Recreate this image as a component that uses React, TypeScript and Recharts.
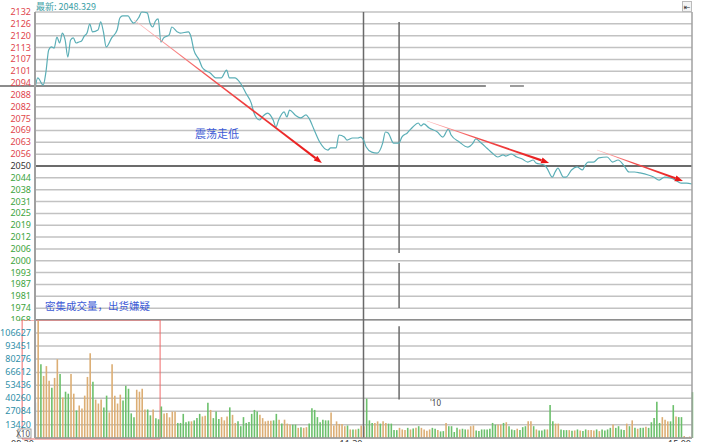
import React from "react";
import {
  ComposedChart,
  Line,
  Bar,
  Cell,
  XAxis,
  YAxis,
  CartesianGrid,
  ReferenceLine,
  ReferenceArea,
} from "recharts";

// [minute index, price]
const pricePoints: [number, number][] = [
  [0, 2091.0], [1, 2096.9], [3, 2093.1], [4, 2100.1], [5, 2111.8], [6, 2113.4], [7, 2112.8], [8, 2118.7],
  [9, 2115.5], [10, 2120.8], [11, 2117.1], [12, 2108.0], [13, 2117.1], [14, 2118.2], [15, 2115.5], [16, 2116.0],
  [17, 2116.6], [18, 2119.2], [19, 2120.8], [20, 2125.6], [21, 2121.4], [23, 2122.4], [24, 2126.7], [25, 2121.4],
  [26, 2113.4], [28, 2118.2], [30, 2122.4], [31, 2128.8], [32, 2129.9], [34, 2129.9], [35, 2127.7], [36, 2126.1],
  [38, 2129.3], [39, 2132.0], [41, 2131.5], [42, 2126.1], [43, 2124.0], [44, 2127.2], [45, 2128.3], [46, 2116.0],
  [47, 2118.2], [49, 2119.8], [50, 2124.0], [52, 2121.4], [53, 2120.8], [56, 2121.4], [57, 2118.7], [58, 2111.8],
  [60, 2106.4], [61, 2102.7], [62, 2101.1], [64, 2099.5], [66, 2096.9], [68, 2096.9], [70, 2101.1], [71, 2096.9],
  [73, 2096.9], [75, 2094.2], [77, 2088.9], [79, 2083.5], [80, 2078.2], [82, 2074.5], [83, 2076.1], [85, 2078.2],
  [87, 2074.5], [88, 2070.8], [89, 2074.5], [91, 2078.8], [92, 2076.1], [93, 2079.8], [95, 2077.2], [97, 2075.6],
  [99, 2077.2], [100, 2075.6], [102, 2069.2], [104, 2062.8], [107, 2058.5], [108, 2059.6], [110, 2059.6], [111, 2066.5],
  [113, 2065.4], [114, 2063.8], [116, 2064.9], [118, 2064.9], [119, 2065.4], [120, 2063.8], [121, 2060.1], [123, 2057.4],
  [125, 2056.9], [127, 2062.2], [128, 2068.1], [129, 2067.6], [131, 2062.2], [133, 2062.2], [134, 2065.4], [136, 2067.6],
  [138, 2070.8], [140, 2072.9], [141, 2071.3], [142, 2072.4], [144, 2070.2], [147, 2068.1], [149, 2065.4], [151, 2069.7],
  [152, 2066.5], [155, 2062.8], [158, 2060.1], [160, 2062.2], [161, 2064.4], [163, 2062.2], [165, 2059.6], [167, 2056.9],
  [169, 2054.8], [171, 2055.9], [172, 2055.3], [174, 2056.4], [176, 2054.8], [178, 2053.7], [180, 2052.1], [182, 2053.2],
  [183, 2051.6], [186, 2050.5], [187, 2048.9], [189, 2044.1], [190, 2046.8], [191, 2048.9], [193, 2044.1], [194, 2044.1],
  [196, 2047.9], [198, 2049.5], [200, 2047.9], [201, 2050.5], [202, 2052.1], [204, 2052.1], [206, 2054.3], [209, 2054.8],
  [211, 2052.1], [213, 2053.2], [215, 2050.5], [217, 2046.8], [219, 2046.8], [221, 2046.3], [224, 2045.2], [226, 2044.1],
  [228, 2042.5], [230, 2044.1], [232, 2043.6], [234, 2042.5], [236, 2040.9], [238, 2040.9], [240, 2040.4],
];

const priceTicks = [
  "2132", "2126", "2120", "2113", "2107", "2101", "2094", "2088", "2082", "2075", "2069", "2063", "2056",
  "2050", "2044", "2038", "2031", "2025", "2019", "2012", "2006", "2000", "1993", "1987", "1981", "1974", "1968",
];
const pctTicks = [
  "4.00%", "3.71%", "3.40%", "3.09%", "2.78%", "2.48%", "2.16%", "1.86%", "1.56%", "1.24%", "0.94%", "0.62%", "0.32%",
  "0.00%", "0.30%", "0.60%", "0.91%", "1.22%", "1.53%", "1.83%", "2.14%", "2.45%", "2.75%", "3.07%", "3.37%", "3.69%", "4.00%",
];
const priceTop = 2132;
const priceBottom = 1968;
const prevClose = 2050;

// volume per minute, in thousands; side: B = open, T = up (tan), G = down (green)
const volK = [
  36, 119, 75, 63, 73, 58, 51, 61, 80, 65,
  41, 47, 45, 65, 45, 28, 33, 30, 43, 62,
  86, 57, 39, 35, 39, 31, 43, 26, 75, 43,
  35, 44, 38, 53, 50, 25, 21, 49, 47, 50,
  29, 29, 23, 29, 20, 19, 32, 25, 25.5, 21,
  26.8, 26.8, 15.3, 15.3, 24.5, 16, 16.9, 16.9, 17.9, 20.2,
  24.5, 21.9, 22.6, 35.8, 28.5, 20.2, 26.8, 19.3, 21.2, 17.9,
  21.9, 31.1, 23.5, 15.3, 16.9, 12, 21.2, 15.3, 16.3, 24.5,
  28.5, 26.8, 23.5, 20.2, 16.9, 17.6, 17.6, 17.9, 24.5, 18.6,
  14.6, 18.6, 14.6, 13.6, 13.6, 13.6, 10.3, 11, 10.3, 11,
  14.6, 30.1, 28.5, 21.2, 16, 18.6, 17.9, 17.9, 25.9, 12.7,
  16.9, 14.3, 14.3, 12, 12.7, 8.7, 8.7, 8.7, 9.4, 12.7,
  12, 40, 17.9, 15.3, 15.3, 16.9, 14.6, 16.9, 15.3, 14.6,
  14.6, 8, 8, 10.3, 8.7, 8, 10.3, 8.7, 9.7, 10.3,
  12, 10.3, 8.7, 7.4, 8.7, 10.3, 9.4, 8, 6.7, 7,
  15.3, 12, 12, 6.1, 10.3, 8.7, 9.4, 8.7, 8.7, 12,
  12.7, 7.7, 7, 8.7, 8.7, 8.7, 9.4, 15.3, 13.6, 13.6,
  13.6, 15.3, 16, 12, 8.7, 8, 9.4, 8, 11, 12,
  16.9, 16.9, 12, 8.7, 7.7, 7.7, 8.7, 8.7, 33.4, 16.9,
  14.6, 14.6, 8.7, 8, 8, 8, 7.4, 7.7, 8.7, 7.7,
  7, 8.7, 8, 8, 7.7, 8.7, 7, 8.7, 7.7, 8.7,
  10.3, 13.6, 10.3, 12, 8.7, 8, 14.6, 12, 17.9, 10.3,
  9.4, 10.3, 10.3, 11.3, 10.3, 16, 20.2, 36.7, 15.3, 21.2,
  18.6, 16.9, 16.9, 33.4, 21.9, 21.2, 21.2, 2, 1, 1.5,
  46.6,
];
const volSide =
  "BTGTTTGTTG" + "TGGTTGTTTT" + "TGTTTGGTTT" + "TTGGGGGTTT" + "TGGTGGGTTT" +
  "TTGGGGGTGG" + "GTTGTGGGTT" + "TGTTGGGGGG" + "GGTTTTTGGT" + "GTTTGGTGTT" +
  "GGGGGGGGTT" + "TTTTGTGTGT" + "TGGGTTGTTG" + "GGGTTTGTGT" + "GTTTTGGTGG" +
  "TGGGGTGGTT" + "TGGGGGGGGT" + "TGTGGGTGGG" + "TTGTGGGTGG" + "TTGGGTGTGT" +
  "GGTTTGTGGG" + "GTGGGGTGTG" + "TGGTGGGGGT" + "TTGGTGGTTT" + "G";

const volTicks = [0, 13420, 27084, 40260, 53436, 66612, 80276, 93451, 106627, 119803];
const volTickLabels = ["X10", "13420", "27084", "40260", "53436", "66612", "80276", "93451", "106627", ""];
const timeTicks = [0, 120, 240];
const timeLabels = ["09:30", "11:30", "15:00"];

const FONT = '"Noto Sans", "DejaVu Sans", sans-serif';
const CJK = '"Noto Sans CJK SC", "Noto Sans", sans-serif';
const RED = "#e0464c";
const GREEN = "#3ca43c";
const DARK = "#333";
const LINE = "#5aaeb6";
const TAN = "#dcae74";
const VGREEN = "#6cc06c";

const step = (priceTop - priceBottom) / (priceTicks.length - 1);
const priceTickVals = priceTicks.map((_, k) => priceTop - k * step);
const midIdx = priceTicks.indexOf("2050");

const priceData = pricePoints.map(([t, p]) => ({ t, price: p }));
const volData = volK.map((v, i) => ({ t: i, vol: v * 1000, side: volSide[i] }));

const sideColor = (s: string) => (s === "T" ? TAN : s === "G" ? VGREEN : "#a8d2e8");
const tickColor = (k: number) => (k < midIdx ? RED : k === midIdx ? DARK : GREEN);

function LeftTick(props: any) {
  const { x, y, index } = props;
  return (
    <text x={x} y={y} dy={3} textAnchor="end" fontSize={9} fontFamily={FONT} fill={tickColor(index)}>
      {priceTicks[index]}
    </text>
  );
}

function RightTick(props: any) {
  const { x, y, index } = props;
  return (
    <text x={x} y={y} dy={3} textAnchor="start" fontSize={9} fontFamily={FONT} fill={tickColor(index)}>
      {pctTicks[index]}
    </text>
  );
}

function VolTick(props: any) {
  const { x, y, index } = props;
  if (index === 0) {
    return (
      <g>
        <rect x={x - 13} y={y - 9} width={13} height={9} fill="#fff" stroke="#888" strokeWidth={0.8} />
        <text x={x - 1} y={y - 1.5} textAnchor="end" fontSize={8} fontFamily={FONT} fill="#555">
          {volTickLabels[0]}
        </text>
      </g>
    );
  }
  return (
    <text x={x} y={y} dy={3} textAnchor="end" fontSize={9} fontFamily={FONT} fill="#2f8fa8">
      {volTickLabels[index]}
    </text>
  );
}

function TimeTick(props: any) {
  const { x, y, index } = props;
  return (
    <text x={x - 1} y={y + 7} textAnchor="end" fontSize={9} fontFamily={FONT} fill={DARK}>
      {timeLabels[index]}
    </text>
  );
}

function Arrow(props: any) {
  const { x1, y1, x2, y2, gid } = props;
  const dx = x2 - x1;
  const dy = y2 - y1;
  const len = Math.hypot(dx, dy) || 1;
  const ux = dx / len, uy = dy / len;
  const nx = -uy, ny = ux;
  const head = 8, hw = 3;
  const bx = x2 - ux * head, by = y2 - uy * head;
  const w0 = 0.3, w1 = 1.1;
  const body = [
    [x1 + nx * w0, y1 + ny * w0],
    [bx + nx * w1, by + ny * w1],
    [bx - nx * w1, by - ny * w1],
    [x1 - nx * w0, y1 - ny * w0],
  ].map((p) => p.join(",")).join(" ");
  const tip = [
    [x2, y2],
    [bx + nx * hw, by + ny * hw],
    [bx - nx * hw, by - ny * hw],
  ].map((p) => p.join(",")).join(" ");
  return (
    <g>
      <defs>
        <linearGradient id={gid} gradientUnits="userSpaceOnUse" x1={x1} y1={y1} x2={x2} y2={y2}>
          <stop offset="0" stopColor="#ffc0c0" />
          <stop offset="0.4" stopColor="#f25050" />
          <stop offset="1" stopColor="#e81818" />
        </linearGradient>
      </defs>
      <polygon points={body} fill={`url(#${gid})`} />
      <polygon points={tip} fill="#e81818" />
    </g>
  );
}

const arrows = [
  { id: "ar1", from: [36.2, 2127.7], to: [104.8, 2051.6] },
  { id: "ar2", from: [143.2, 2074.0], to: [187.8, 2051.6] },
  { id: "ar3", from: [205.3, 2058.5], to: [236.7, 2042.0] },
];

export default function App() {
  return (
    <div
      style={{
        position: "absolute",
        left: 0,
        top: 0,
        width: 720,
        height: 442,
        background: "#fff",
        overflow: "hidden",
        fontFamily: FONT,
      }}
    >
      {/* Price panel */}
      <div style={{ position: "absolute", left: 0, top: 0 }}>
        <ComposedChart width={720} height={321} data={priceData} margin={{ top: 12, right: 0, left: 0, bottom: 1 }}>
          <CartesianGrid vertical={false} stroke="#c2c2c2" strokeWidth={1.5} />
          <XAxis dataKey="t" type="number" domain={[0, 240]} hide />
          <YAxis
            domain={[priceBottom, priceTop]}
            ticks={priceTickVals}
            interval={0}
            width={35}
            tickSize={2}
            tickLine={false}
            axisLine={{ stroke: "#a0a0a0", strokeWidth: 2 }}
            tick={<LeftTick />}
          />
          <YAxis
            yAxisId="r"
            orientation="right"
            domain={[priceBottom, priceTop]}
            ticks={priceTickVals}
            interval={0}
            width={28}
            tickSize={2}
            tickLine={false}
            axisLine={{ stroke: "#a0a0a0", strokeWidth: 1.5 }}
            tick={<RightTick />}
          />
          <ReferenceLine y={prevClose} stroke="#484848" strokeWidth={1.5} />
          <ReferenceLine y={priceBottom} stroke="#777" strokeWidth={1.5} />
          <ReferenceLine x={120} stroke="#6a6a6a" strokeWidth={1.5} />
          <ReferenceLine segment={[{ x: 133, y: 2126.7 }, { x: 133, y: 2003.7 }]} stroke="#6a6a6a" strokeWidth={1.5} />
          <ReferenceLine segment={[{ x: 133, y: 1998.3 }, { x: 133, y: 1974.4 }]} stroke="#6a6a6a" strokeWidth={1.5} />
          <ReferenceLine
            segment={[{ x: -12.8, y: 2092.6 }, { x: 164.7, y: 2092.6 }]}
            ifOverflow="visible"
            stroke="#666"
            strokeWidth={1.3}
          />
          <ReferenceLine segment={[{ x: 173.5, y: 2092.6 }, { x: 178.6, y: 2092.6 }]} stroke="#666" strokeWidth={1.3} />
          <Line
            type="monotone"
            dataKey="price"
            stroke={LINE}
            strokeWidth={1.2}
            dot={false}
            isAnimationActive={false}
          />
          {arrows.map((a) => (
            <ReferenceLine
              key={a.id}
              segment={[{ x: a.from[0], y: a.from[1] }, { x: a.to[0], y: a.to[1] }]}
              ifOverflow="visible"
              shape={(p: any) => <Arrow {...p} gid={a.id} />}
            />
          ))}
        </ComposedChart>
      </div>

      {/* Volume panel */}
      <div style={{ position: "absolute", left: 0, top: 320 }}>
        <ComposedChart width={720} height={140} data={volData} margin={{ top: 0, right: 0, left: 0, bottom: 0 }}>
          <CartesianGrid vertical={false} stroke="#c2c2c2" strokeWidth={1.5} />
          <XAxis
            dataKey="t"
            type="number"
            domain={[0, 240]}
            ticks={timeTicks}
            interval={0}
            height={22}
            tickSize={0}
            tickLine={false}
            axisLine={{ stroke: "#999", strokeWidth: 1.5 }}
            tick={<TimeTick />}
          />
          <YAxis
            domain={[0, 119803]}
            ticks={volTicks}
            interval={0}
            width={35}
            tickSize={2}
            tickLine={false}
            axisLine={{ stroke: "#a0a0a0", strokeWidth: 2 }}
            tick={<VolTick />}
          />
          <YAxis
            yAxisId="r"
            orientation="right"
            domain={[0, 119803]}
            width={28}
            tick={false}
            tickLine={false}
            axisLine={{ stroke: "#a0a0a0", strokeWidth: 1.5 }}
          />
          <Bar dataKey="vol" barSize={1.6} isAnimationActive={false}>
            {volData.map((d) => (
              <Cell key={d.t} fill={sideColor(d.side)} />
            ))}
          </Bar>
          <ReferenceLine x={120} stroke="#6a6a6a" strokeWidth={1.5} />
          <ReferenceLine segment={[{ x: 133, y: 113500 }, { x: 133, y: 39200 }]} stroke="#6a6a6a" strokeWidth={1.5} />
          <ReferenceArea
            x1={-4.7}
            x2={45.7}
            y1={-1000}
            y2={119803}
            ifOverflow="visible"
            fill="none"
            fillOpacity={0}
            stroke="#f06a6a"
            strokeWidth={1}
          />
        </ComposedChart>
      </div>

      {/* Header and annotations */}
      <div style={{ position: "absolute", left: 36, top: 1, fontSize: 9, color: "#3a9ea5", fontFamily: CJK, lineHeight: "11px" }}>
        最新: 2048.329
      </div>
      <div
        style={{
          position: "absolute",
          left: 682,
          top: 1,
          width: 10,
          height: 11,
          border: "1px solid #bbb",
          boxSizing: "border-box",
          fontSize: 8,
          lineHeight: "9px",
          textAlign: "center",
          color: "#333",
          background: "#f4f4f4",
        }}
      >
        ⇤
      </div>
      <div style={{ position: "absolute", left: 195, top: 126, fontSize: 11, color: "#3d5bd6", fontFamily: CJK, lineHeight: "14px" }}>
        震荡走低
      </div>
      <div style={{ position: "absolute", left: 45, top: 299, fontSize: 10.5, color: "#3d5bd6", fontFamily: CJK, lineHeight: "14px" }}>
        密集成交量，出货嫌疑
      </div>
      <div style={{ position: "absolute", left: 430, top: 398, fontSize: 8, color: "#444", lineHeight: "10px" }}>
        '10
      </div>
    </div>
  );
}
